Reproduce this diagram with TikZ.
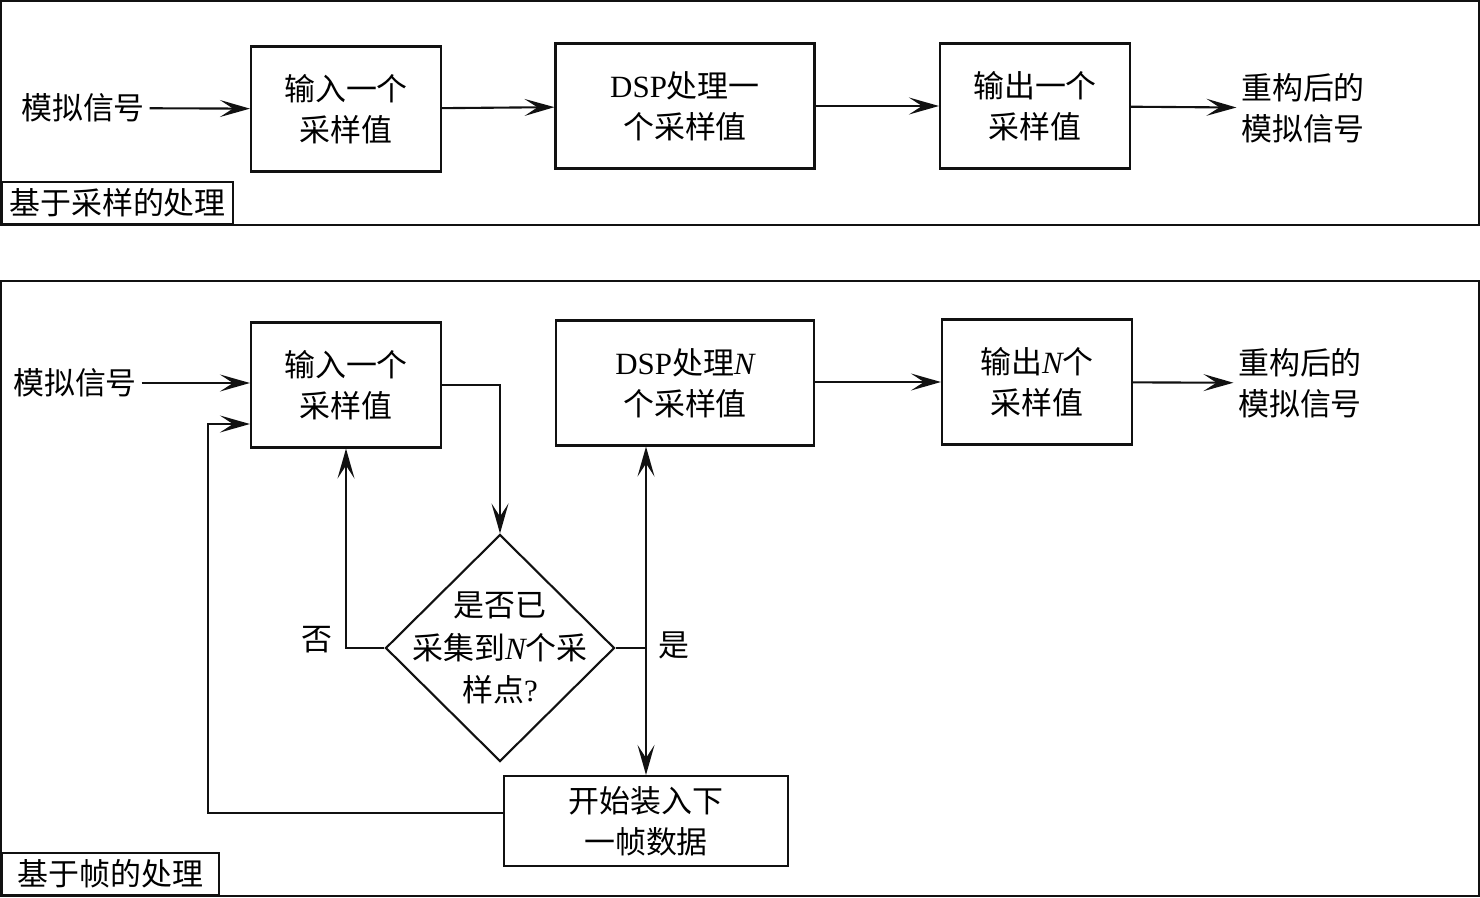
\documentclass[tikz,border=0pt]{standalone}
\usepackage{fontspec}
\setmainfont{Liberation Serif}
\newfontfamily\cjk{Noto Sans CJK SC}
\usetikzlibrary{arrows.meta,shapes.geometric}
\definecolor{flowInk}{HTML}{111111}
\newcommand{\varN}{{\rmfamily\itshape N}}
\tikzset{
  blk/.style={draw=flowInk, line width=0.6pt, inner sep=0pt, align=center,
    minimum width=19mm, minimum height=12.5mm, font=\cjk\fontsize{8.8}{11.6}\selectfont},
  txt/.style={inner sep=0.4mm, align=center, font=\cjk\fontsize{8.8}{11.6}\selectfont},
  tag/.style={draw=flowInk, line width=0.6pt, inner sep=0pt, anchor=south west,
    minimum height=4.2mm, font=\cjk\fontsize{8.8}{11.6}\selectfont},
  link/.style={draw=flowInk, line width=0.6pt, -{Stealth[length=3mm,width=1.7mm,inset=1.3mm]}},
}

\begin{document}
\begin{tikzpicture}[x=0.1mm, y=-0.1mm]
\useasboundingbox (0,0) rectangle (1480,897);

% sample-based processing
\draw[flowInk, line width=0.6pt] (1,1) rectangle (1479,225);
\node[tag, minimum width=23.1mm] (tagA) at (1,225) {基于采样的处理};
\node[txt] (srcA) at (83,108) {模拟信号};
\node[blk] (inA) at (346,109) {输入一个\\采样值};
\node[blk, minimum width=25.9mm] (dspA) at (685,106) {{\rmfamily DSP}处理一\\个采样值};
\node[blk] (outA) at (1035,106) {输出一个\\采样值};
\node[txt] (recA) at (1303,108) {重构后的\\模拟信号};
\foreach \a/\b in {srcA/inA, inA/dspA, dspA/outA, outA/recA}
  \draw[link] (\a) -- (\b);

% frame-based processing
\draw[flowInk, line width=0.6pt] (1,281) rectangle (1479,896);
\node[tag, minimum width=21.7mm] (tagB) at (1,896) {基于帧的处理};
\node[txt] (srcB) at (75,383) {模拟信号};
\node[blk] (inB) at (346,385) {输入一个\\采样值};
\node[blk, minimum width=25.8mm] (dspB) at (685,383) {{\rmfamily DSP}处理\varN\\个采样值};
\node[blk] (outB) at (1037,382) {输出\varN 个\\采样值};
\node[txt] (recB) at (1300,383) {重构后的\\模拟信号};
\node[diamond, draw=flowInk, line width=0.6pt, minimum width=22.9mm, minimum height=22.7mm, inner sep=0pt] (chk) at (500,648) {};
\node[txt, font=\cjk\fontsize{8.8}{12}\selectfont] (chkTxt) at (chk.center) {是否已\\采集到\varN 个采\\样点{\rmfamily ?}};
\node[blk, minimum width=28.4mm, minimum height=9mm] (nxt) at (646,821) {开始装入下\\一帧数据};
\node[txt] (noLbl) at (317,640) {否};
\node[txt] (yesLbl) at (674,645) {是};
\coordinate (loopC) at (208,424);

\draw[link] (srcB) -- (srcB -| inB.west);
\draw[link] (dspB.east |- outB) -- (outB);
\draw[link] (outB) -- (recB);
\draw[link] (inB.east) -| (chk.north);
\draw[link] (chk.west) -| (inB.south);
\draw[flowInk, line width=0.6pt] (chk.east) -- (chk.east -| nxt.north);
\draw[link, {Stealth[length=3mm,width=1.7mm,inset=1.3mm]}-{Stealth[length=3mm,width=1.7mm,inset=1.3mm]}] (dspB.south -| nxt.north) -- (nxt.north);
\draw[link] ([yshift=0.8mm]nxt.west) -| (loopC) -- (loopC -| inB.west);
\end{tikzpicture}
\end{document}
